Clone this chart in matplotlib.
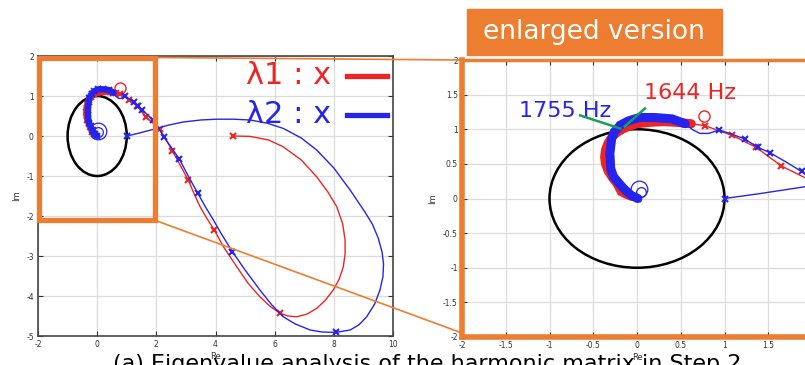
import matplotlib
matplotlib.use("Agg")

import matplotlib.pyplot as plt
from matplotlib.lines import Line2D
from matplotlib.patches import Circle, Rectangle
from matplotlib.ticker import FormatStrFormatter

# Eigenvalue locus of lambda1 (sweep part), Re / Im
lam1_re = [4.60, 5.17, 5.80, 6.29, 6.90, 7.42, 7.80, 8.10, 8.30, 8.38, 8.38, 8.32, 8.18,
           7.98, 7.72, 7.42, 7.10, 6.75, 6.45, 6.18, 5.85, 5.50, 5.10, 4.72, 4.27, 3.96,
           3.70, 3.48, 3.25, 3.08, 2.80, 2.54, 2.32, 2.12, 1.92, 1.65, 1.36, 1.09, 0.78, 0.62]
lam1_im = [0.00, -0.01, -0.10, -0.27, -0.60, -1.02, -1.40, -1.77, -2.20, -2.60, -2.95, -3.27, -3.58,
           -3.85, -4.10, -4.31, -4.45, -4.52, -4.50, -4.43, -4.26, -4.02, -3.68, -3.27, -2.77, -2.35,
           -2.05, -1.77, -1.40, -1.10, -0.72, -0.37, -0.08, 0.17, 0.30, 0.47, 0.74, 0.91, 1.05, 1.08]
# dense high-frequency tail of lambda1
lam1_tail_re = [0.62, 0.45, 0.30, 0.15, 0.00, -0.10, -0.20, -0.28, -0.33, -0.36, -0.37,
                -0.36, -0.33, -0.28, -0.23, -0.18, -0.12, -0.06]
lam1_tail_im = [1.08, 1.10, 1.11, 1.10, 1.08, 1.04, 0.98, 0.90, 0.80, 0.70, 0.60,
                0.50, 0.40, 0.30, 0.22, 0.10, 0.06, 0.03]
lam1_mark_re = [4.60, 6.18, 3.96, 3.08, 2.54, 2.12, 1.65, 1.36, 1.09, 0.78]
lam1_mark_im = [0.00, -4.43, -2.35, -1.10, -0.37, 0.17, 0.47, 0.74, 0.91, 1.05]

# Eigenvalue locus of lambda2 (sweep part)
lam2_re = [1.00, 1.40, 1.92, 2.40, 2.91, 3.50, 4.04, 4.60, 5.17, 5.75, 6.29, 6.90, 7.42,
           8.00, 8.55, 9.05, 9.30, 9.50, 9.63, 9.68, 9.66, 9.56, 9.38, 9.11, 8.85, 8.55, 8.07,
           7.60, 7.20, 6.70, 6.29, 5.90, 5.50, 5.00, 4.57, 4.20, 3.93, 3.65, 3.40, 3.08,
           2.78, 2.50, 2.26, 2.07, 1.88, 1.70, 1.52, 1.38, 1.23, 1.08, 0.94, 0.82, 0.72,
           0.64, 0.55]
lam2_im = [0.00, 0.07, 0.17, 0.27, 0.35, 0.40, 0.42, 0.42, 0.40, 0.32, 0.19, -0.05, -0.35,
           -0.80, -1.35, -1.90, -2.20, -2.55, -2.90, -3.20, -3.52, -3.85, -4.20, -4.52, -4.72,
           -4.85, -4.91, -4.90, -4.85, -4.70, -4.52, -4.22, -3.85, -3.35, -2.89, -2.45, -2.10,
           -1.76, -1.43, -1.00, -0.58, -0.28, -0.03, 0.20, 0.39, 0.53, 0.66, 0.74, 0.86, 0.93,
           0.99, 0.94, 0.94, 0.99, 1.08]
lam2_tail_re = [0.55, 0.40, 0.20, 0.03, -0.10, -0.19, -0.26, -0.29, -0.31, -0.30, -0.27,
                -0.22, -0.15, -0.06, 0.01]
lam2_tail_im = [1.08, 1.15, 1.17, 1.17, 1.12, 1.06, 0.96, 0.86, 0.65, 0.43, 0.32,
                0.24, 0.14, 0.04, 0.00]
lam2_mark_re = [1.00, 8.07, 4.57, 3.40, 2.78, 2.26, 1.88, 1.52, 1.38, 1.23, 0.94]
lam2_mark_im = [0.00, -4.91, -2.89, -1.43, -0.58, -0.03, 0.39, 0.66, 0.74, 0.86, 0.99]

# circled points
lam1_ring_re, lam1_ring_im = [0.76], [1.19]
lam2_ring_re, lam2_ring_im = [0.02, 0.04], [0.13, 0.10]

RED = "#EE2424"
BLUE = "#2424EE"
ORANGE = "#ED7D31"
W, H = 805, 365


def fx(x):
    return x / W


def fy(y):
    return 1 - y / H


def draw_loci(ax, tail_lw, tail_ms):
    ax.add_patch(Circle((0, 0), 1, fill=False, color="black", lw=1.8, zorder=2))
    ax.plot(lam1_re, lam1_im, color=RED, lw=1.0, zorder=3)
    ax.plot(lam1_tail_re, lam1_tail_im, color=RED, lw=tail_lw, solid_capstyle="round",
            solid_joinstyle="round", marker="x", ms=tail_ms, mew=1.2, zorder=3)
    ax.plot(lam1_mark_re, lam1_mark_im, "x", color=RED, ms=5, mew=1.5, zorder=3)
    ax.plot(lam1_ring_re, lam1_ring_im, "o", mfc="none", mec=RED, ms=8, mew=1.0, zorder=3)
    ax.plot(lam2_re, lam2_im, color=BLUE, lw=1.0, zorder=4)
    ax.plot(lam2_tail_re, lam2_tail_im, color=BLUE, lw=tail_lw, solid_capstyle="round",
            solid_joinstyle="round", marker="x", ms=tail_ms, mew=1.2, zorder=4)
    ax.plot(lam2_mark_re, lam2_mark_im, "x", color=BLUE, ms=5, mew=1.5, zorder=4)
    ax.plot(lam2_ring_re[:1], lam2_ring_im[:1], "o", mfc="none", mec=BLUE, ms=12, mew=0.9, zorder=4)
    ax.plot(lam2_ring_re[1:], lam2_ring_im[1:], "o", mfc="none", mec=BLUE, ms=7, mew=0.9, zorder=4)


def style_axes(ax):
    ax.grid(True, color="#dcdcdc", lw=0.9)
    ax.set_axisbelow(True)
    ax.tick_params(direction="in", length=3.5, labelsize=5.5, colors="#333333",
                   top=True, right=True, pad=3)
    ax.xaxis.set_major_formatter(FormatStrFormatter("%g"))
    ax.yaxis.set_major_formatter(FormatStrFormatter("%g"))
    ax.set_xlabel("Re", fontsize=6, labelpad=2, color="#333333")
    ax.set_ylabel("Im", fontsize=6, labelpad=4, color="#333333")


fig = plt.figure(figsize=(8.05, 3.65), dpi=100)

# full view
ax1 = fig.add_axes([fx(38), fy(336), fx(355), 280 / H])
draw_loci(ax1, 4.5, 4)
ax1.set_xlim(-2, 10)
ax1.set_ylim(-5, 2)
ax1.set_xticks(range(-2, 11, 2))
ax1.set_yticks(range(-5, 3))
style_axes(ax1)
for sp in ax1.spines.values():
    sp.set_color("#444444")
    sp.set_linewidth(1.2)
ax1.add_patch(Rectangle((-1.98, -2.1), 3.93, 4.06, fill=False, ec=ORANGE, lw=3.8,
                        zorder=6, clip_on=False))

# zoomed view around the unit circle
ax2 = fig.add_axes([fx(462), fy(337), fx(350), 277 / H])
draw_loci(ax2, 6.5, 5)
ax2.set_xlim(-2, 2)
ax2.set_ylim(-2, 2)
ax2.set_xticks([-2, -1.5, -1, -0.5, 0, 0.5, 1, 1.5])
ax2.set_yticks([-2, -1.5, -1, -0.5, 0, 0.5, 1, 1.5, 2])
style_axes(ax2)
for name, sp in ax2.spines.items():
    sp.set_color(ORANGE)
    sp.set_linewidth(4.0 if name != "top" else 2.5)

# frequency annotations in the zoomed view
ax2.text(-1.35, 1.27, "1755 Hz", color=BLUE, fontsize=16, ha="left", va="center")
ax2.text(0.08, 1.52, "1644 Hz", color=RED, fontsize=16, ha="left", va="center")
ax2.plot([-0.65, -0.19], [1.20, 1.01], color="#1A9E55", lw=1.8, zorder=5)
ax2.plot([0.09, -0.14], [1.30, 1.04], color="#1A9E55", lw=1.8, zorder=5)

# connector lines between the two views
fig.add_artist(Line2D([fx(157), fx(462)], [fy(57.5), fy(60)], color=ORANGE, lw=1.2, zorder=10))
fig.add_artist(Line2D([fx(157), fx(462)], [fy(221), fy(333)], color=ORANGE, lw=1.2, zorder=10))

# legend
fig.text(fx(246), fy(76), "\u03bb1 : x", color=RED, fontsize=22, va="center", ha="left")
fig.text(fx(246), fy(115), "\u03bb2 : x", color=BLUE, fontsize=22, va="center", ha="left")
fig.add_artist(Line2D([fx(347), fx(387)], [fy(76), fy(76)], color=RED, lw=3.8))
fig.add_artist(Line2D([fx(347), fx(387)], [fy(115), fy(115)], color=BLUE, lw=3.8))

# title tag
fig.add_artist(Rectangle((fx(467), fy(55)), 255 / W, 46.5 / H, transform=fig.transFigure,
                         color=ORANGE, zorder=10))
fig.text(fx(594), fy(32), "enlarged version", color="white", fontsize=19,
         ha="center", va="center", zorder=11)

# caption
fig.text(fx(113), fy(370), "(a) Eigenvalue analysis of the harmonic matrix in Step 2",
         fontsize=16, ha="left", va="baseline")

fig.savefig("out.png", dpi=100)
plt.close(fig)
